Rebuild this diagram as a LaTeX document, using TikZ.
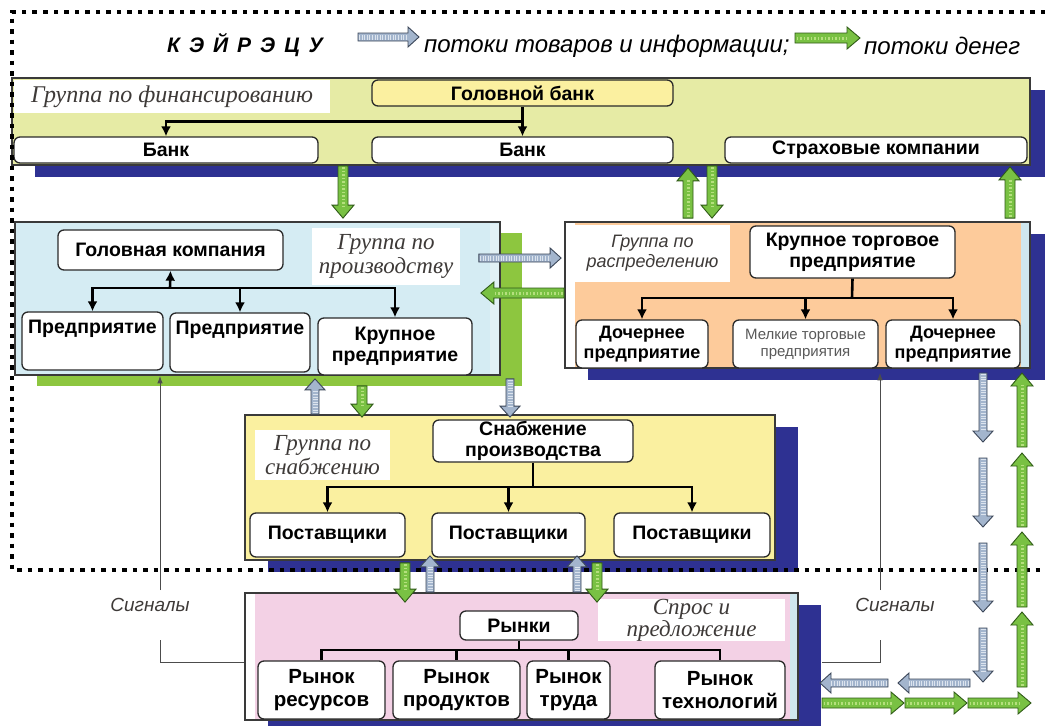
\documentclass[tikz,border=0pt]{standalone}
\usepackage{fontspec}
\setmainfont{Liberation Serif}
\setsansfont{Liberation Sans}
\usetikzlibrary{positioning, arrows.meta, calc, shadows}

\definecolor{navyshade}{HTML}{2E3192}
\definecolor{limeshade}{HTML}{8DC63F}
\definecolor{finbg}{HTML}{E6EBA5}
\definecolor{headbg}{HTML}{FBF0A0}
\definecolor{prodbg}{HTML}{D5ECF3}
\definecolor{distbg}{HTML}{FDCB9B}
\definecolor{supbg}{HTML}{FAF0A0}
\definecolor{mktbg}{HTML}{F3D1E5}
\definecolor{edgebg}{HTML}{CFE7EE}
\definecolor{grpline}{HTML}{3A3A3A}
\definecolor{boxline}{HTML}{2A2A2A}
\definecolor{lbltext}{HTML}{3E3A38}
\definecolor{goodsfill}{HTML}{A3B5CD}
\definecolor{goodsline}{HTML}{3B4658}
\definecolor{goodsstripe}{HTML}{DCE4EE}
\definecolor{moneyfill}{HTML}{79C143}
\definecolor{moneyline}{HTML}{2F5A17}
\definecolor{moneydot}{HTML}{B5E07E}

\tikzset{
  group/.style={draw=grpline, line width=1.8pt, inner sep=0pt},
  navydrop/.style={drop shadow={shadow xshift=23pt, shadow yshift=-12pt, fill=navyshade, opacity=1}},
  greendrop/.style={drop shadow={shadow xshift=22pt, shadow yshift=-11pt, fill=limeshade, opacity=1}},
  grplabel/.style={fill=white, inner sep=0pt, align=center, text=lbltext},
  box/.style={draw=boxline, fill=white, rounded corners=6pt, line width=1.3pt, align=center,
    inner sep=1pt, font=\sffamily\bfseries\fontsize{19.5}{21}\selectfont},
  topbox/.style={box, text height=14pt, text depth=#1},
  tree/.style={line width=2.6pt, -{Latex[length=10pt, width=10pt]}},
  treeline/.style={line width=2.6pt},
  signal/.style={draw=black!70, line width=1pt},
  sigtext/.style={font=\sffamily\itshape\fontsize{19}{20}\selectfont, text=lbltext},
  legend/.style={font=\sffamily\itshape\fontsize{24}{26}\selectfont, inner sep=0pt},
  goods/.style={fill=goodsfill, draw=goodsline, line width=0.9pt},
  goodsstripes/.style={draw=goodsstripe, line width=5pt, dash pattern=on 1pt off 1.6pt},
  money/.style={fill=moneyfill, draw=moneyline, line width=0.9pt},
  moneydots/.style={draw=moneydot, line width=3pt, dash pattern=on 1.5pt off 2pt},
  frame/.style={line width=4.5pt, dash pattern=on 4.5pt off 6pt}
}

% block arrow for goods and information
\newcommand{\goodsflow}[2]{%
  \coordinate (fs) at (#1);
  \coordinate (fe) at (#2);
  \coordinate (fh) at ($(fe)!11pt!(fs)$);
  \filldraw[goods] ($(fs)!4pt!90:(fe)$) -- ($(fh)!4pt!90:(fe)$) -- ($(fh)!10pt!90:(fe)$) -- (fe)
    -- ($(fh)!10pt!-90:(fe)$) -- ($(fh)!4pt!-90:(fe)$) -- ($(fs)!4pt!-90:(fe)$) -- cycle;
  \draw[goodsstripes] ($(fs)!1pt!(fe)$) -- (fh);
}
% block arrow for money
\newcommand{\moneyflow}[2]{%
  \coordinate (fs) at (#1);
  \coordinate (fe) at (#2);
  \coordinate (fh) at ($(fe)!13pt!(fs)$);
  \filldraw[money] ($(fs)!5pt!90:(fe)$) -- ($(fh)!5pt!90:(fe)$) -- ($(fh)!11pt!90:(fe)$) -- (fe)
    -- ($(fh)!11pt!-90:(fe)$) -- ($(fh)!5pt!-90:(fe)$) -- ($(fs)!5pt!-90:(fe)$) -- cycle;
  \draw[moneydots] ($(fs)!1.5pt!(fe)$) -- ($(fh)!1pt!(fe)$);
}

\begin{document}
\begin{tikzpicture}[x=1pt, y=-1pt]
\useasboundingbox (0,0) rectangle (1045,726);

% header
\node[font=\sffamily\bfseries\itshape\fontsize{21}{22}\selectfont] (title) at (245,45)
  {К\hspace{9pt}Э\hspace{9pt}Й\hspace{9pt}Р\hspace{9pt}Э\hspace{9pt}Ц\hspace{9pt}У};
\node[legend, anchor=west] (lgoods) at (424,46) {потоки товаров и информации;};
\node[legend, anchor=west] (lmoney) at (864,46) {потоки денег};

% finance group
\node[group, fill=finbg, navydrop, minimum width=1018pt, minimum height=87pt] (fin) at (521,121.5) {};
\node[grplabel, minimum width=316pt, minimum height=33pt,
  font=\rmfamily\itshape\fontsize{24}{26}\selectfont] (finlbl) at (172,96.5) {Группа по финансированию};
\node[box, fill=headbg, minimum width=301pt, minimum height=26pt] (headbank) at (522.5,93) {Головной банк};
\node[box, minimum width=304pt, minimum height=26pt] (bankA) at (166,150) {Банк};
\node[box, minimum width=301pt, minimum height=26pt] (bankB) at (522.5,150) {Банк};
\node[box, minimum width=302pt, minimum height=26pt] (insur) at (876,150) {Страховые компании};
\draw[tree] (headbank.south) -- (bankB.north);
\draw[tree] ($(headbank.south)!0.5!(bankB.north)$) -| (bankA.north);

% production group
\node[group, fill=prodbg, greendrop, minimum width=485pt, minimum height=153pt] (prod) at (257.5,298.5) {};
\fill[edgebg!60] (490,223.5) rectangle (498.5,373.5);
\node[grplabel, minimum width=148pt, minimum height=57pt,
  font=\rmfamily\itshape\fontsize{23}{24}\selectfont] (prodlbl) at (386,256.5) {Группа по\\производству};
\node[box, minimum width=225pt, minimum height=40pt] (hq) at (170.5,250) {Головная компания};
\node[topbox=30pt, minimum width=141pt, minimum height=58pt] (entA) at (92.5,341) {Предприятие};
\node[topbox=30pt, minimum width=140pt, minimum height=59pt] (entB) at (240,342.5) {Предприятие};
\node[box, minimum width=154pt, minimum height=57pt] (bigent) at (395,346.5) {Крупное\\предприятие};
\coordinate (pj) at (170,288);
\draw[tree] (pj) -- (hq.south);
\draw[tree] (pj) -| (entA.north);
\draw[tree] (pj) -| (entB.north);
\draw[tree] (pj) -| (bigent.north);

% distribution group
\node[group, fill=distbg, navydrop, minimum width=465pt, minimum height=146pt] (dist) at (797.5,295) {};
\fill[white] (566,223) rectangle (575,367);
\fill[edgebg] (1021,223) rectangle (1029,367);
\node[grplabel, minimum width=155pt, minimum height=57pt,
  font=\sffamily\itshape\fontsize{18}{20}\selectfont] (distlbl) at (652.5,253.5) {Группа по\\распределению};
\node[box, minimum width=205pt, minimum height=52pt] (trade) at (852.5,252) {Крупное торговое\\предприятие};
\node[box, minimum width=132pt, minimum height=48pt, font=\sffamily\bfseries\fontsize{18}{20}\selectfont]
  (subA) at (642,344) {Дочернее\\предприятие};
\node[box, minimum width=145pt, minimum height=48pt, font=\sffamily\fontsize{15}{17}\selectfont,
  text=black!65] (smalltr) at (805.5,344) {Мелкие торговые\\предприятия};
\node[box, minimum width=134pt, minimum height=48pt, font=\sffamily\bfseries\fontsize{18}{20}\selectfont]
  (subB) at (953,344) {Дочернее\\предприятие};
\coordinate (dj) at (852,298);
\draw[treeline] (trade.south) -- (dj);
\draw[tree] (dj) -| (subA.north);
\draw[tree] (dj) -| (smalltr.north);
\draw[tree] (dj) -| (subB.north);

% supply group
\node[group, fill=supbg, navydrop, minimum width=530pt, minimum height=145pt] (sup) at (510,487.5) {};
\node[grplabel, minimum width=135pt, minimum height=50pt,
  font=\rmfamily\itshape\fontsize{23}{24}\selectfont] (suplbl) at (322.5,455) {Группа по\\снабжению};
\node[box, minimum width=200pt, minimum height=42pt] (supply) at (533,441) {Снабжение\\производства};
\node[box, minimum width=155pt, minimum height=44pt] (provA) at (327.5,535) {Поставщики};
\node[box, minimum width=153pt, minimum height=44pt] (provB) at (508.5,535) {Поставщики};
\node[box, minimum width=156pt, minimum height=44pt] (provC) at (692,535) {Поставщики};
\coordinate (sj) at (533,487);
\draw[treeline] (supply.south) -- (sj);
\draw[tree] (sj) -| (provA.north);
\draw[tree] (sj) -| (provB.north);
\draw[tree] (sj) -| (provC.north);

% markets group
\node[group, fill=mktbg, navydrop, minimum width=553pt, minimum height=127pt] (mkt) at (521.5,656.5) {};
\fill[white] (246,594) rectangle (255,719);
\fill[edgebg] (790,594) rectangle (797,719);
\node[grplabel, minimum width=187pt, minimum height=40pt,
  font=\rmfamily\itshape\fontsize{23}{22}\selectfont] (mktlbl) at (691.5,620) {Спрос и\\предложение};
\node[box, minimum width=118pt, minimum height=29pt] (rynki) at (519,625.5) {Рынки};
\tikzset{mktbox/.style={box, minimum height=58pt, font=\sffamily\bfseries\fontsize{20.5}{23}\selectfont}}
\node[mktbox, minimum width=127pt] (mA) at (321.5,690) {Рынок\\ресурсов};
\node[mktbox, minimum width=127pt] (mB) at (456.5,690) {Рынок\\продуктов};
\node[mktbox, minimum width=83pt] (mC) at (568.5,690) {Рынок\\труда};
\node[mktbox, minimum width=130pt] (mD) at (720,690) {Рынок\\технологий};
\coordinate (mj) at (519,650);
\draw[treeline] (rynki.south) -- (mj);
\draw[treeline] (mj) -| (mA.north);
\draw[treeline] (mj) -| (mB.north);
\draw[treeline] (mj) -| (mC.north);
\draw[treeline] (mj) -| (mD.north);

% keiretsu border
\draw[frame] (1045,12) -- (12,12) -- (12,570) -- (1045,570);

% legend arrows
\goodsflow{$(lgoods.west)+(-66,-9)$}{$(lgoods.west)+(-5,-9)$}
\moneyflow{$(lmoney.west)+(-69,-8)$}{$(lmoney.west)+(-4,-8)$}

% flows between groups
\coordinate (xA) at (343,0);
\coordinate (xB) at (688,0);
\coordinate (xC) at (712,0);
\coordinate (xD) at (1010,0);
\moneyflow{fin.south -| xA}{$(prod.north -| xA)+(0,-3)$}
\moneyflow{$(dist.north -| xB)+(0,-3)$}{$(fin.south -| xB)+(0,2)$}
\moneyflow{fin.south -| xC}{$(dist.north -| xC)+(0,-3)$}
\moneyflow{$(dist.north -| xD)+(0,-3)$}{$(fin.south -| xD)+(0,1)$}

\coordinate (yA) at (0,258);
\coordinate (yB) at (0,293);
\goodsflow{$(prod.east |- yA)+(-22,0)$}{$(dist.west |- yA)+(-3,0)$}
\moneyflow{dist.west |- yB}{$(prod.east |- yB)+(-20,0)$}

\coordinate (xE) at (315,0);
\coordinate (xF) at (362,0);
\coordinate (xG) at (510,0);
\goodsflow{sup.north -| xE}{$(prod.south -| xE)+(0,3)$}
\moneyflow{$(prod.south -| xF)+(0,10)$}{$(sup.north -| xF)+(0,3)$}
\goodsflow{$(prod.south -| xG)+(0,3)$}{$(sup.north -| xG)+(0,3)$}

\coordinate (xH) at (405,0);
\coordinate (xI) at (430,0);
\coordinate (xJ) at (577,0);
\coordinate (xK) at (597,0);
\moneyflow{$(sup.south -| xH)+(0,2)$}{$(mkt.north -| xH)+(0,10)$}
\goodsflow{mkt.north -| xI}{$(sup.south -| xI)+(0,-5)$}
\goodsflow{mkt.north -| xJ}{$(sup.south -| xJ)+(0,-5)$}
\moneyflow{$(sup.south -| xK)+(0,2)$}{$(mkt.north -| xK)+(0,10)$}

% outer circulation
\foreach \ya/\yb in {373/442, 458/527, 543/612, 628/682}
  {\goodsflow{983,\ya}{983,\yb}}
\foreach \ya/\yb in {447/373, 527/453, 607/532, 687/612}
  {\moneyflow{1022,\ya}{1022,\yb}}
\foreach \xa/\xb in {970/898, 888/820}
  {\goodsflow{\xa,683}{\xb,683}}
\foreach \xa/\xb in {822/904, 905/967, 968/1031}
  {\moneyflow{\xa,703}{\xb,703}}

% signals
\node[sigtext] (sigL) at (150,605) {Сигналы};
\node[sigtext] (sigR) at (895,605) {Сигналы};
\coordinate (sL) at (160,662);
\coordinate (sR) at (880,662);
\draw[signal] (mkt.west |- sL) -- (sL) -- ++(0,-22);
\draw[signal, -Latex] ($(sL)+(0,-72)$) -- (prod.south -| sL);
\draw[signal] ($(mkt.east |- sR)+(23,0)$) -- (sR) -- ++(0,-22);
\draw[signal, -Latex] ($(sR)+(0,-72)$) -- ($(dist.south -| sR)+(0,4)$);
\end{tikzpicture}
\end{document}
